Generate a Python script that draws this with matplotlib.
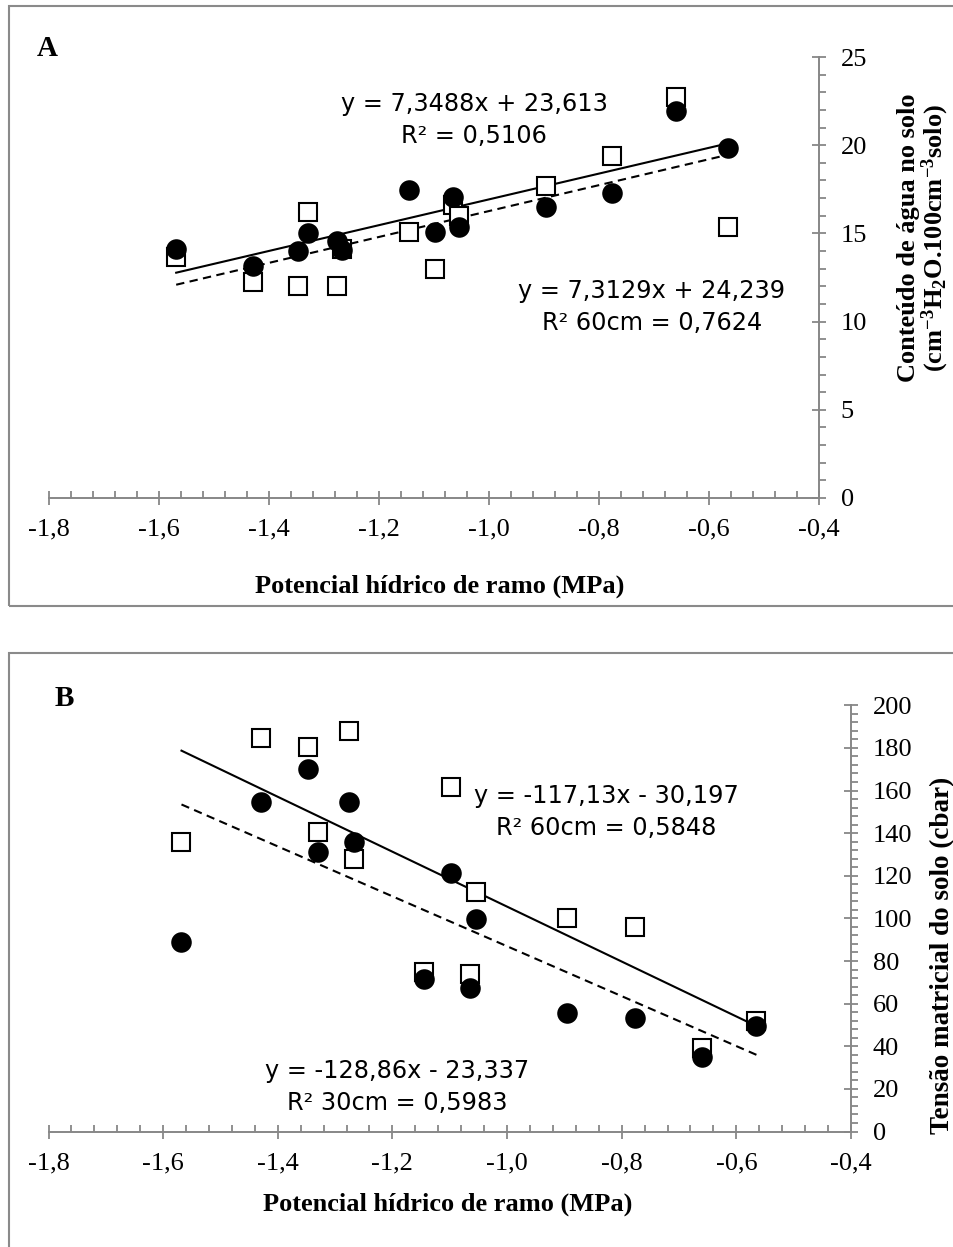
import matplotlib
matplotlib.use("Agg")
import matplotlib.pyplot as plt
from matplotlib.ticker import MultipleLocator, FuncFormatter
from matplotlib.patches import Rectangle
import numpy as np

# ---------------- data ----------------
x_ramo = [-1.568, -1.429, -1.347, -1.329, -1.276, -1.267, -1.145, -1.098,
          -1.065, -1.054, -0.896, -0.776, -0.660, -0.565]

# Panel A: soil water content
agua_circ = [14.12, 13.15, 14.00, 15.02, 14.57, 14.06, 17.46, 15.08,
             17.06, 15.36, 16.48, 17.31, 21.96, 19.82]
agua_quad = [13.68, 12.26, 12.04, 16.23, 12.04, 14.10, 15.06, 12.96,
             16.61, 15.99, 17.69, 19.39, 22.75, 15.38]

# Panel B: soil matric tension
tensao_quad = [135.9, 184.8, 180.4, 140.4, 188.1, 127.7, 75.0, 161.8,
               73.9, 112.5, 100.0, 96.1, 39.0, 52.0]
tensao_circ = [89.1, 154.6, 170.1, 131.0, 154.6, 136.0, 71.4, 121.2,
               67.2, 99.6, 55.5, 53.1, 35.1, 49.5]

# regression coefficients (slope, intercept) as shown in the chart
regA_solid = (7.3129, 24.239)
regA_dash = (7.3488, 23.613)
regB_solid = (-128.86, -23.337)
regB_dash = (-117.13, -30.197)

eqA_top = "y = 7,3488x + 23,613\nR² = 0,5106"
eqA_bot = "y = 7,3129x + 24,239\nR² 60cm = 0,7624"
eqB_top = "y = -117,13x - 30,197\nR² 60cm = 0,5848"
eqB_bot = "y = -128,86x - 23,337\nR² 30cm = 0,5983"

xlabel = "Potencial hídrico de ramo (MPa)"
ylabelA = "Conteúdo de água no solo\n(cm$^{-3}$H$_{2}$O.100cm$^{-3}$solo)"
ylabelB = "Tensão matricial do solo (cbar)"

# ---------------- style ----------------
plt.rcParams['mathtext.fontset'] = 'custom'
plt.rcParams['mathtext.rm'] = 'Liberation Serif:bold'
plt.rcParams['mathtext.bf'] = 'Liberation Serif:bold'
plt.rcParams['mathtext.it'] = 'Liberation Serif:bold'
plt.rcParams['mathtext.default'] = 'rm'

W, H = 954, 1247
fig = plt.figure(figsize=(W / 100, H / 100), dpi=100)

GRAY = '#878787'
SERIF = 'Liberation Serif'
SANS = 'DejaVu Sans'


def rect(x0, x1, ytop, ybot):
    return [x0 / W, 1 - ybot / H, (x1 - x0) / W, (ybot - ytop) / H]


def fx(px):
    return px / W


def fy(py):
    return 1 - py / H


# frames around the panels
fig.patches.append(Rectangle((fx(9), fy(606)), 2.0, (606 - 6) / H,
                             transform=fig.transFigure, fill=False,
                             edgecolor='#8a8a8a', linewidth=1.5))
fig.patches.append(Rectangle((fx(9), fy(1300)), 2.0, (1300 - 653) / H,
                             transform=fig.transFigure, fill=False,
                             edgecolor='#8a8a8a', linewidth=1.5))

axA = fig.add_axes(rect(48.5, 819, 57, 498))
axB = fig.add_axes(rect(48.5, 851, 705.3, 1131.5))


def style_axis(ax, ymax, ymaj, ymin):
    ax.set_xlim(-1.8, -0.4)
    ax.set_ylim(0, ymax)
    for s in ('top', 'left'):
        ax.spines[s].set_visible(False)
    for s in ('bottom', 'right'):
        ax.spines[s].set_color(GRAY)
        ax.spines[s].set_linewidth(1.4)
    ax.yaxis.tick_right()
    ax.yaxis.set_label_position('right')
    ax.xaxis.set_major_locator(MultipleLocator(0.2))
    ax.xaxis.set_minor_locator(MultipleLocator(0.04))
    ax.yaxis.set_major_locator(MultipleLocator(ymaj))
    ax.yaxis.set_minor_locator(MultipleLocator(ymin))
    ax.xaxis.set_major_formatter(FuncFormatter(lambda v, p: f"{v:.1f}".replace('.', ',')))
    ax.yaxis.set_major_formatter(FuncFormatter(lambda v, p: f"{v:.0f}"))
    ax.tick_params(axis='x', which='major', direction='inout', length=9.5,
                   width=1.3, color=GRAY, pad=10, labelsize=19)
    ax.tick_params(axis='x', which='minor', direction='in', length=4.7,
                   width=1.3, color=GRAY)
    ax.tick_params(axis='y', which='major', direction='inout', length=9.5,
                   width=1.3, color=GRAY, pad=11, labelsize=19)
    ax.tick_params(axis='y', which='minor', direction='out', length=4.7,
                   width=1.3, color=GRAY)
    for lab in ax.get_xticklabels() + ax.get_yticklabels():
        lab.set_fontfamily(SERIF)
    ax.patch.set_alpha(0)


style_axis(axA, 25, 5, 1)
style_axis(axB, 200, 20, 4)

xs = np.array(x_ramo)
xl = np.array([xs.min(), xs.max()])


def draw(ax, quad, circ, solid, dash):
    ax.plot(xl, solid[0] * xl + solid[1], color='black', lw=1.5, zorder=2)
    ax.plot(xl, dash[0] * xl + dash[1], color='black', lw=1.5,
            dashes=(4, 2.6), zorder=2)
    ax.plot(xs, quad, 's', ms=13, mfc='white', mec='black', mew=1.5,
            zorder=3, clip_on=False)
    ax.plot(xs, circ, 'o', ms=14.8, mfc='black', mec='black', mew=0,
            zorder=4, clip_on=False)


draw(axA, agua_quad, agua_circ, regA_solid, regA_dash)
draw(axB, tensao_quad, tensao_circ, regB_solid, regB_dash)

# equations
eqkw = dict(family=SANS, fontsize=17.3, ha='center', va='center',
            multialignment='center', linespacing=1.45)
fig.text(fx(474), fy(120), eqA_top, **eqkw)
fig.text(fx(652), fy(307), eqA_bot, **eqkw)
fig.text(fx(606), fy(812), eqB_top, **eqkw)
fig.text(fx(397), fy(1087), eqB_bot, **eqkw)

# panel letters
fig.text(fx(47.5), fy(49), "A", family=SERIF, weight='bold', fontsize=21,
         ha='center', va='center')
fig.text(fx(64.5), fy(699), "B", family=SERIF, weight='bold', fontsize=21,
         ha='center', va='center')

# axis titles
fig.text(fx(440), fy(586), xlabel, family=SERIF, weight='bold', fontsize=19,
         ha='center', va='center')
fig.text(fx(448), fy(1204), xlabel, family=SERIF, weight='bold', fontsize=19,
         ha='center', va='center')
fig.text(fx(924), fy(238), ylabelA, family=SERIF, weight='bold', fontsize=19,
         ha='center', va='center', rotation=90, multialignment='center',
         linespacing=1.0)
fig.text(fx(943), fy(955), ylabelB, family=SERIF, weight='bold', fontsize=19.5,
         ha='center', va='center', rotation=90)

fig.savefig("out.png", dpi=100)
